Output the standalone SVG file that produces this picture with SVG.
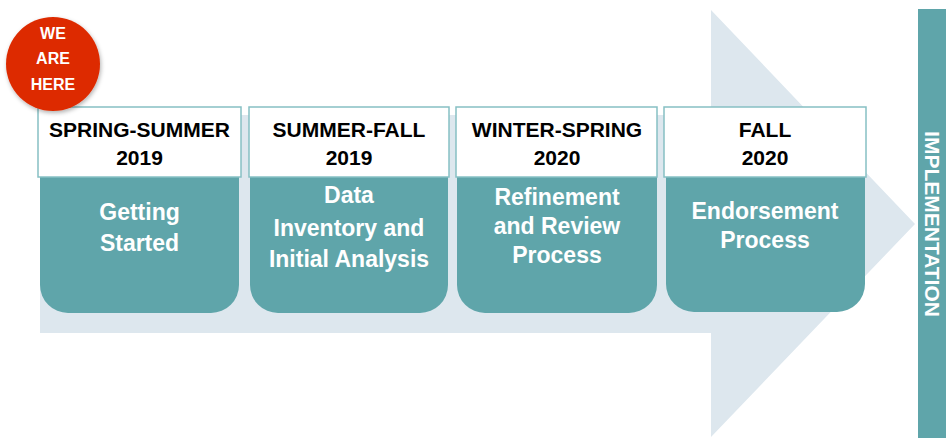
<svg xmlns="http://www.w3.org/2000/svg" width="946" height="438" viewBox="0 0 946 438">
<style>
.hdr{fill:#ffffff;stroke:#86c0c4;stroke-width:1.5}
.body{fill:#5fa5aa}
.ht{font-family:"Liberation Sans",Arial,sans-serif;font-weight:bold;font-size:21px;fill:#000;text-anchor:middle}
.bt{font-family:"Liberation Sans",Arial,sans-serif;font-weight:bold;font-size:23px;fill:#fff;text-anchor:middle}
.wt{font-family:"Liberation Sans",Arial,sans-serif;font-weight:bold;font-size:16px;fill:#fff;text-anchor:middle}
</style>
<defs>
<filter id="sh" x="-20%" y="-20%" width="140%" height="140%">
<feDropShadow dx="1" dy="2" stdDeviation="2" flood-color="#000" flood-opacity="0.3"/>
</filter>
</defs>
<rect width="946" height="438" fill="#fff"/>
<g id="arrow">
<polygon points="40,115 711,115 711,10 915,224 711,437 711,333 40,333" fill="#dde7ee"/>
</g>
<g id="implementation">
<rect x="918" y="9" width="28" height="429" fill="#5fa5aa"/>
<text class="ht" style="fill:#fff" transform="translate(925,224) rotate(90)">IMPLEMENTATION</text>
</g>
<g id="connectors"></g>
<g id="box1">
<path class="body" d="M40,177 H239 V285 A28,28 0 0 1 211,313 H68 A28,28 0 0 1 40,285 Z"/>
<rect class="hdr" x="38" y="107" width="203" height="70"/>
<text class="ht" x="139.5" y="137">SPRING-SUMMER</text>
<text class="ht" x="139.5" y="165">2019</text>
<text class="bt" x="139.5" y="220">Getting</text>
<text class="bt" x="139.5" y="251">Started</text>
</g>
<g id="box2">
<path class="body" d="M250,177 H448 V285 A28,28 0 0 1 420,313 H278 A28,28 0 0 1 250,285 Z"/>
<rect class="hdr" x="249" y="107" width="200" height="70"/>
<text class="ht" x="349" y="137">SUMMER-FALL</text>
<text class="ht" x="349" y="165">2019</text>
<text class="bt" x="349" y="203">Data</text>
<text class="bt" x="349" y="236">Inventory and</text>
<text class="bt" x="349" y="267">Initial Analysis</text>
</g>
<g id="box3">
<path class="body" d="M457,177 H657 V285 A28,28 0 0 1 629,313 H485 A28,28 0 0 1 457,285 Z"/>
<rect class="hdr" x="456" y="107" width="201" height="70"/>
<text class="ht" x="557" y="137">WINTER-SPRING</text>
<text class="ht" x="557" y="165">2020</text>
<text class="bt" x="557" y="205">Refinement</text>
<text class="bt" x="557" y="234">and Review</text>
<text class="bt" x="557" y="263">Process</text>
</g>
<g id="box4">
<path class="body" d="M666,177 H865 V284 A28,28 0 0 1 837,312 H694 A28,28 0 0 1 666,284 Z"/>
<rect class="hdr" x="664" y="107" width="202" height="70"/>
<text class="ht" x="765" y="137">FALL</text>
<text class="ht" x="765" y="165">2020</text>
<text class="bt" x="765" y="219">Endorsement</text>
<text class="bt" x="765" y="248">Process</text>
</g>
<g id="we-are-here">
<circle cx="53" cy="64" r="47" fill="#dd2c00" filter="url(#sh)"/>
<text class="wt" x="53" y="39">WE</text>
<text class="wt" x="53" y="64">ARE</text>
<text class="wt" x="53" y="90">HERE</text>
</g>
</svg>
